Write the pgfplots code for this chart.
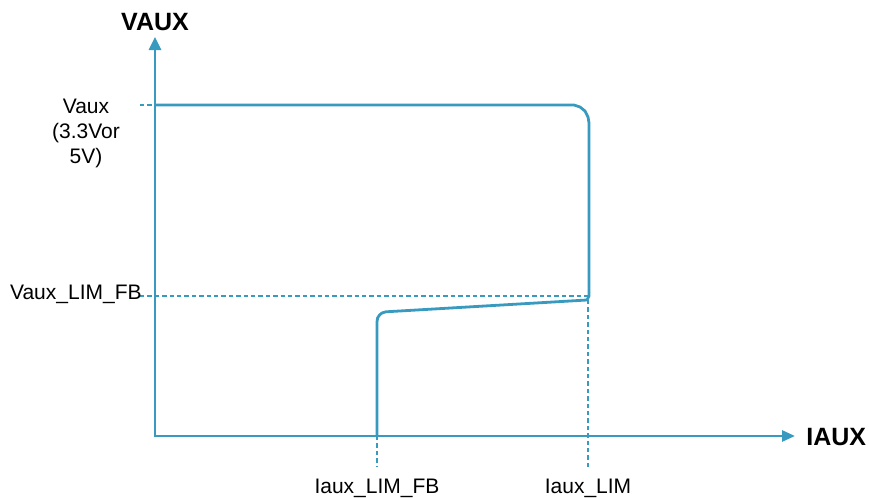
\documentclass[border=0pt]{standalone}
\usepackage{pgfplots}
\pgfplotsset{compat=1.18}
\usepackage{fontspec}
\setmainfont{Liberation Sans}
\usetikzlibrary{arrows.meta}
\definecolor{lc}{RGB}{57,154,192}
\begin{document}
\begin{tikzpicture}
\begin{axis}[
  hide axis, scale only axis, clip=false,
  width=434.5pt, height=249pt,
  xmin=0, xmax=869, ymin=0, ymax=498, y dir=reverse,
]
% frame extent
\addplot[draw=none] coordinates {(0,0) (869,498)};
% dashed guides
\addplot[lc, line width=1.1pt, dash pattern=on 2.2pt off 1.5pt] coordinates {(140,105) (200,105)};
\addplot[lc, line width=1.1pt, dash pattern=on 2.2pt off 1.5pt] coordinates {(140,296) (589,296)};
\addplot[lc, line width=1.1pt, dash pattern=on 2.2pt off 1.5pt] coordinates {(377,436) (377,467)};
\addplot[lc, line width=1.1pt, dash pattern=on 2.2pt off 1.5pt] coordinates {(588,300) (588,467)};
% axes
\addplot[lc, line width=1.4pt, -{Triangle[length=6.5pt,width=6pt]}] coordinates {(155,436) (155,37)};
\addplot[lc, line width=1.4pt, -{Triangle[length=6.5pt,width=5.5pt]}] coordinates {(154,436) (795,436)};
% curve
\addplot[lc, line width=1.4pt] coordinates {
 (377,436) (377,322) (377.6,318) (379.5,315) (382,313) (386,311.8)
 (587,300) (589,296) (589,123) (588,117) (585,111) (580,107) (574,105) (155,105)};
% labels
\node[font=\bfseries\fontsize{12.5}{14}\selectfont, inner sep=0pt] at (axis cs:155,22) {VAUX};
\node[font=\bfseries\fontsize{12.5}{14}\selectfont, anchor=west, inner sep=0pt] at (axis cs:806,437) {IAUX};
\node[font=\fontsize{10.5}{12.5}\selectfont, align=center, inner sep=0pt] at (axis cs:86,133) {Vaux\\(3.3Vor\\5V)};
\node[font=\fontsize{10.5}{12.5}\selectfont, anchor=east, inner sep=0pt] at (axis cs:142,294) {Vaux\_LIM\_FB};
\node[font=\fontsize{10.5}{12.5}\selectfont, inner sep=0pt] at (axis cs:377,488) {Iaux\_LIM\_FB};
\node[font=\fontsize{10.5}{12.5}\selectfont, inner sep=0pt] at (axis cs:588,488) {Iaux\_LIM};
\end{axis}
\end{tikzpicture}
\end{document}
